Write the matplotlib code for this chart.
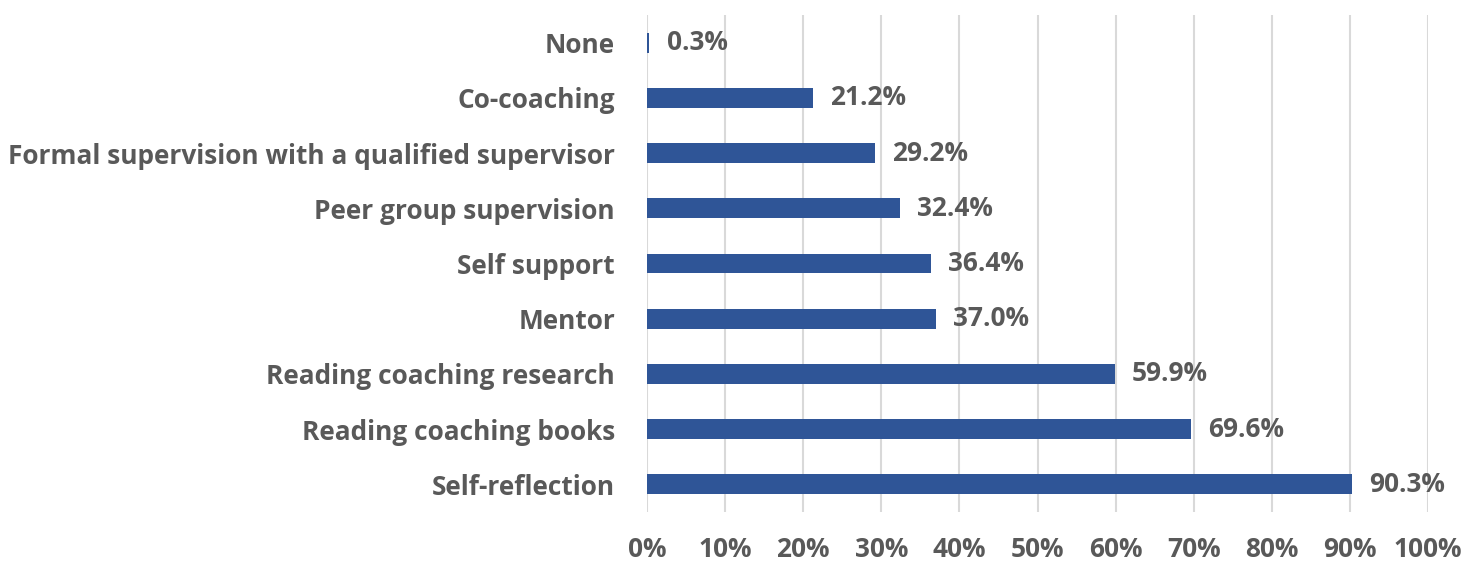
import matplotlib
matplotlib.use("Agg")
import matplotlib.pyplot as plt
from matplotlib.ticker import PercentFormatter

categories = [
    "Self-reflection",
    "Reading coaching books",
    "Reading coaching research",
    "Mentor",
    "Self support",
    "Peer group supervision",
    "Formal supervision with a qualified supervisor",
    "Co-coaching",
    "None",
]
values = [90.3, 69.6, 59.9, 37.0, 36.4, 32.4, 29.2, 21.2, 0.3]
xticks = [0, 10, 20, 30, 40, 50, 60, 70, 80, 90, 100]

BAR = "#2F5597"
TEXT = "#595959"
GRID = "#D9D9D9"

plt.rcParams["font.family"] = ["Open Sans", "DejaVu Sans"]
plt.rcParams["font.weight"] = "bold"
FS = 18.9

fig = plt.figure(figsize=(14.68, 5.64), dpi=100)
ax = fig.add_axes([647 / 1468, 1 - 512 / 564, 781 / 1468, 497 / 564])

y = range(len(categories))
ax.barh(y, values, height=0.36, color=BAR, zorder=3)
for i, v in enumerate(values):
    ax.text(v + 2.2, i, f"{v:.1f}%", va="center", ha="left",
            fontsize=FS, fontweight="bold", color=TEXT)

ax.set_xlim(0, 100)
ax.set_ylim(-0.5, len(categories) - 0.5)
ax.set_xticks(xticks)
ax.xaxis.set_major_formatter(PercentFormatter(decimals=0))
ax.set_yticks(list(y))
ax.set_yticklabels(categories)
ax.tick_params(axis="both", length=0, labelsize=FS, colors=TEXT)
ax.tick_params(axis="y", pad=23)
ax.tick_params(axis="x", pad=17)
for lab in ax.get_xticklabels() + ax.get_yticklabels():
    lab.set_fontweight("bold")

ax.grid(axis="x", color=GRID, linewidth=1.5, zorder=0)
for s in ax.spines.values():
    s.set_visible(False)

fig.savefig("out.png", dpi=100)
